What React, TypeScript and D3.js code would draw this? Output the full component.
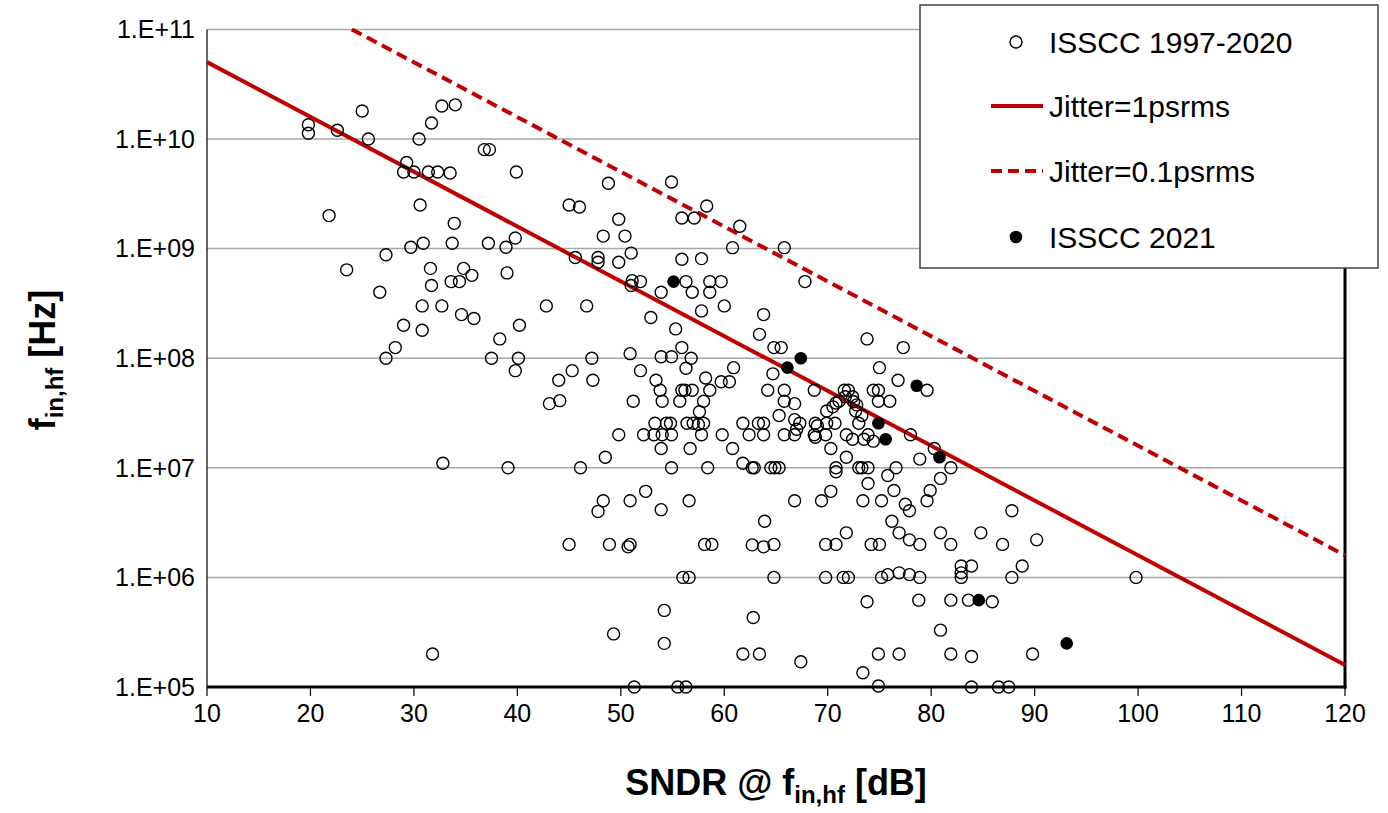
import React from 'react';
import * as d3 from 'd3';

// ---------- data ----------
const xTicks = [10, 20, 30, 40, 50, 60, 70, 80, 90, 100, 110, 120];
const yTicks = [1e5, 1e6, 1e7, 1e8, 1e9, 1e10, 1e11];
const yTickLabels = ['1.E+05', '1.E+06', '1.E+07', '1.E+08', '1.E+09', '1.E+10', '1.E+11'];

// [SNDR dB, fin,hf Hz]
const isscc1997to2020: [number, number][] = [
  [19.8, 1.35e10], [19.8, 1.13e10], [25.0, 1.8e10], [22.6, 1.2e10], [25.6, 1.0e10], [32.7, 2.0e10], [34.0, 2.05e10],
  [31.7, 1.4e10], [30.5, 1.0e10], [36.8, 8.0e9], [37.3, 8.0e9], [29.3, 6.1e9], [29.0, 5.0e9], [30.0, 5.0e9],
  [31.4, 5.0e9], [32.3, 5.0e9], [33.5, 4.9e9], [30.6, 2.5e9], [21.8, 2.0e9], [33.9, 1.7e9], [30.9, 1.12e9],
  [29.7, 1.03e9], [33.7, 1.12e9], [37.2, 1.12e9], [38.9, 1.03e9], [27.3, 8.8e8], [23.5, 6.4e8], [31.6, 6.6e8],
  [34.8, 6.6e8], [35.6, 5.7e8], [33.6, 5.0e8], [34.4, 5.0e8], [31.7, 4.6e8], [39.0, 6.0e8], [26.7, 4.0e8],
  [30.8, 3.0e8], [32.7, 3.0e8],
  [39.9, 5.0e9], [48.8, 3.95e9], [54.9, 4.05e9], [45.0, 2.5e9], [46.0, 2.4e9], [49.8, 1.85e9], [58.3, 2.45e9],
  [55.9, 1.9e9], [57.1, 1.9e9], [48.3, 1.3e9], [50.4, 1.3e9], [39.8, 1.25e9], [45.6, 8.3e8], [47.8, 8.3e8],
  [47.8, 7.5e8], [49.8, 7.5e8], [51.0, 9.1e8], [55.9, 8.0e8], [57.8, 8.1e8], [51.1, 5.1e8], [51.9, 5.0e8],
  [51.0, 4.6e8], [53.9, 4.0e8], [56.3, 5.0e8], [56.9, 4.0e8], [58.6, 5.0e8], [58.6, 4.0e8], [42.8, 3.0e8],
  [46.7, 3.0e8],
  [61.5, 1.6e9], [60.8, 1.02e9], [65.8, 1.02e9], [67.8, 5.0e8], [59.7, 5.0e8], [60.0, 3.0e8],
  [34.6, 2.5e8], [35.8, 2.3e8], [29.0, 2.0e8], [30.8, 1.8e8], [38.3, 1.5e8], [28.2, 1.25e8], [27.3, 1.0e8],
  [37.5, 1.0e8], [32.8, 1.1e7],
  [40.2, 2.0e8], [40.1, 1.0e8], [39.8, 7.7e7], [44.0, 6.3e7], [45.3, 7.7e7], [47.2, 1.0e8], [47.3, 6.3e7],
  [43.1, 3.85e7], [44.1, 4.1e7], [50.9, 1.1e8], [51.9, 7.7e7], [52.9, 2.35e8], [57.8, 2.7e8], [55.3, 1.85e8],
  [55.9, 1.25e8], [53.9, 1.03e8], [54.9, 1.03e8], [56.8, 1.0e8], [56.3, 8.1e7], [58.2, 6.6e7], [53.4, 6.3e7],
  [53.8, 5.1e7], [55.9, 5.1e7], [56.2, 5.1e7], [56.9, 5.1e7], [58.6, 5.1e7], [54.0, 4.05e7], [55.7, 4.05e7],
  [58.0, 4.05e7], [51.2, 4.05e7], [57.6, 3.25e7], [53.3, 2.55e7], [54.4, 2.55e7], [54.8, 2.55e7], [56.4, 2.55e7],
  [57.0, 2.55e7], [57.5, 2.48e7], [58.0, 2.55e7], [49.8, 2.0e7], [52.2, 2.0e7], [53.2, 2.0e7], [54.0, 2.0e7],
  [54.9, 2.0e7], [57.8, 2.0e7], [53.9, 1.5e7], [56.7, 1.5e7], [48.5, 1.25e7], [39.1, 1.0e7], [46.1, 1.0e7],
  [54.9, 1.0e7], [58.4, 1.0e7], [48.3, 5.0e6], [50.9, 5.0e6], [52.4, 6.1e6], [56.6, 5.0e6], [53.9, 4.15e6],
  [63.8, 2.5e8], [63.4, 1.65e8], [64.8, 1.25e8], [65.5, 1.25e8], [73.8, 1.5e8], [77.3, 1.25e8], [60.9, 8.2e7],
  [59.7, 6.1e7], [60.5, 6.1e7], [64.7, 7.2e7], [64.2, 5.1e7], [65.8, 5.1e7], [68.7, 5.1e7], [75.0, 8.2e7],
  [76.8, 6.3e7], [65.8, 4.05e7], [66.8, 3.85e7], [71.6, 5.1e7], [72.0, 5.1e7], [74.4, 5.1e7], [74.9, 5.1e7],
  [71.1, 4.05e7], [71.7, 4.45e7], [72.4, 4.45e7], [72.5, 4.0e7], [72.8, 3.75e7], [70.8, 3.9e7], [70.5, 3.6e7],
  [74.9, 4.05e7], [76.0, 4.05e7], [69.9, 3.3e7], [72.7, 3.3e7], [73.3, 3.0e7],
  [61.8, 2.55e7], [63.3, 2.55e7], [63.8, 2.55e7], [65.3, 3.0e7], [66.8, 2.75e7], [67.3, 2.55e7], [67.0, 2.25e7],
  [68.8, 2.55e7], [69.0, 2.42e7], [69.9, 2.55e7], [70.7, 2.55e7], [73.0, 2.55e7], [59.8, 2.0e7], [62.4, 2.0e7],
  [63.8, 2.0e7], [65.8, 2.0e7], [66.8, 2.0e7], [68.7, 2.0e7], [68.8, 1.9e7], [69.8, 2.0e7], [71.8, 2.0e7],
  [72.4, 1.82e7], [73.5, 1.82e7], [73.9, 2.0e7], [74.4, 1.75e7], [60.8, 1.5e7], [70.3, 1.5e7], [71.8, 1.25e7],
  [61.8, 1.1e7], [62.7, 1.0e7], [62.9, 1.0e7], [64.5, 1.0e7], [64.9, 1.0e7], [65.3, 1.0e7], [70.8, 1.0e7],
  [70.8, 9.2e6], [73.0, 1.0e7], [73.3, 1.0e7], [73.9, 1.0e7], [76.6, 1.0e7], [75.8, 8.5e6], [73.9, 7.2e6],
  [76.4, 6.2e6], [70.3, 6.1e6], [66.8, 5.0e6], [69.4, 5.0e6], [73.4, 5.0e6], [75.2, 5.0e6], [77.5, 4.65e6],
  [79.6, 5.1e7], [78.0, 2.0e7], [80.3, 1.5e7], [78.9, 1.2e7], [81.9, 1.0e7], [80.9, 8.0e6], [79.9, 6.2e6],
  [79.6, 5.0e6], [77.9, 4.05e6], [87.8, 4.05e6], [76.9, 2.55e6], [77.9, 2.2e6], [78.9, 2.0e6], [80.9, 2.55e6],
  [81.9, 2.0e6], [84.8, 2.55e6], [86.9, 2.0e6], [90.2, 2.2e6], [76.9, 1.1e6], [77.9, 1.06e6], [78.9, 1.0e6],
  [82.9, 1.27e6], [82.9, 1.1e6], [82.9, 1.0e6], [83.9, 1.27e6], [87.8, 1.0e6], [88.8, 1.27e6], [99.8, 1.0e6],
  [78.8, 6.2e5], [81.9, 6.2e5], [83.6, 6.2e5], [85.9, 6.0e5], [80.9, 3.3e5], [76.9, 2.0e5], [81.9, 2.0e5],
  [83.9, 1.9e5], [89.8, 2.0e5], [83.9, 1.0e5], [86.5, 1.0e5], [87.5, 1.0e5],
  [63.9, 3.25e6], [76.2, 3.25e6], [71.8, 2.55e6], [58.1, 2.0e6], [58.8, 2.0e6], [62.7, 1.98e6], [63.8, 1.9e6],
  [64.8, 2.0e6], [69.8, 2.0e6], [70.8, 2.0e6], [74.2, 2.0e6], [75.0, 2.0e6], [64.8, 1.0e6], [69.8, 1.0e6],
  [71.5, 1.0e6], [72.0, 1.0e6], [75.2, 1.0e6], [75.8, 1.06e6], [73.8, 6.0e5], [62.8, 4.3e5], [61.8, 2.0e5],
  [63.4, 2.0e5], [67.4, 1.7e5], [74.9, 2.0e5], [73.4, 1.35e5], [74.9, 1.02e5], [47.8, 4.0e6], [45.0, 2.0e6],
  [48.9, 2.0e6], [50.9, 2.0e6], [50.7, 1.9e6], [56.0, 1.0e6], [56.6, 1.0e6], [54.2, 5.0e5], [49.3, 3.05e5],
  [54.2, 2.5e5], [51.3, 1.0e5], [55.5, 1.0e5], [56.3, 1.0e5], [31.8, 2.0e5],
];

const isscc2021: [number, number][] = [
  [55.1, 5.0e8], [67.4, 1.0e8], [66.1, 8.2e7], [74.9, 2.55e7], [75.6, 1.82e7],
  [78.6, 5.6e7], [80.8, 1.25e7], [84.6, 6.2e5], [93.1, 2.5e5],
];

// jitter-limit lines (end points)
const jitter1ps: [number, number][] = [[10, 5.03e10], [120, 1.59e5]];
const jitter01ps: [number, number][] = [[24.0, 1e11], [120, 1.59e6]];

const legendItems = ['ISSCC 1997-2020', 'Jitter=1psrms', 'Jitter=0.1psrms', 'ISSCC 2021'];

const RED = '#C00000';
const FONT = '"Liberation Sans", Arial, sans-serif';

export default function App() {
  const W = 1388;
  const H = 813;
  const x = d3.scaleLinear().domain([10, 120]).range([207, 1345]);
  const y = d3.scaleLog().domain([1e5, 1e11]).range([687, 29.4]);
  const line = d3.line<[number, number]>().x((d) => x(d[0])).y((d) => y(d[1]));
  const [x0, x1] = x.range();
  const [yb, yt] = y.range();

  const lgX = 920, lgY = 5, lgW = 458, lgH = 263;
  const rowY = [42, 106, 171, 237];

  return (
    <svg width={W} height={H} style={{ position: 'absolute', left: 0, top: 0, background: '#fff' }} fontFamily={FONT}>
      {/* gridlines */}
      {yTicks.map((t) => (
        <line key={'g' + t} x1={x0} x2={x1} y1={y(t)} y2={y(t)} stroke="#a6a6a6" strokeWidth={1.5} />
      ))}
      {/* y tick labels */}
      {yTicks.map((t, i) => (
        <text key={'yl' + t} x={195} y={y(t)} dy="0.35em" textAnchor="end" fontSize={25}>
          {yTickLabels[i]}
        </text>
      ))}
      {/* x ticks & labels */}
      {xTicks.map((t) => (
        <g key={'x' + t}>
          <line x1={x(t)} x2={x(t)} y1={yb} y2={yb + 9} stroke="#000" strokeWidth={1.2} />
          <text x={x(t)} y={yb + 35} textAnchor="middle" fontSize={25}>{t}</text>
        </g>
      ))}
      {/* axes */}
      <line x1={x0} x2={x0} y1={yt} y2={yb} stroke="#000" strokeWidth={1.2} />
      <line x1={x1} x2={x1} y1={yt} y2={yb + 1.5} stroke="#000" strokeWidth={3} />
      <line x1={x0} x2={x1 + 1.5} y1={yb} y2={yb} stroke="#000" strokeWidth={3} />

      {/* jitter lines */}
      <path d={line(jitter1ps) || ''} stroke={RED} strokeWidth={4} fill="none" />
      <path d={line(jitter01ps) || ''} stroke={RED} strokeWidth={4} fill="none" strokeDasharray="11 6" />

      {/* data */}
      {isscc1997to2020.map((d, i) => (
        <circle key={'o' + i} cx={x(d[0])} cy={y(d[1])} r={6} fill="none" stroke="#000" strokeWidth={1.4} />
      ))}
      {isscc2021.map((d, i) => (
        <circle key={'f' + i} cx={x(d[0])} cy={y(d[1])} r={6.3} fill="#000" />
      ))}

      {/* legend */}
      <rect x={lgX} y={lgY} width={lgW} height={lgH} fill="#fff" stroke="#404040" strokeWidth={1.5} />
      <circle cx={1016} cy={rowY[0]} r={6} fill="#fff" stroke="#000" strokeWidth={1.4} />
      <line x1={991} x2={1043} y1={rowY[1]} y2={rowY[1]} stroke={RED} strokeWidth={4} />
      <line x1={991} x2={1043} y1={rowY[2]} y2={rowY[2]} stroke={RED} strokeWidth={4} strokeDasharray="11 6" />
      <circle cx={1016} cy={rowY[3]} r={6.3} fill="#000" />
      {legendItems.map((s, i) => (
        <text key={s} x={1049} y={rowY[i]} dy="0.35em" fontSize={30}>{s}</text>
      ))}

      {/* axis titles */}
      <text x={776} y={795} textAnchor="middle" fontSize={36} fontWeight="bold">
        SNDR @ f<tspan fontSize={24} dy={8}>in,hf</tspan><tspan dy={-8}> [dB]</tspan>
      </text>
      <text transform="translate(55,360) rotate(-90)" textAnchor="middle" fontSize={36} fontWeight="bold">
        f<tspan fontSize={24} dy={8}>in,hf</tspan><tspan dy={-8}> [Hz]</tspan>
      </text>
    </svg>
  );
}
